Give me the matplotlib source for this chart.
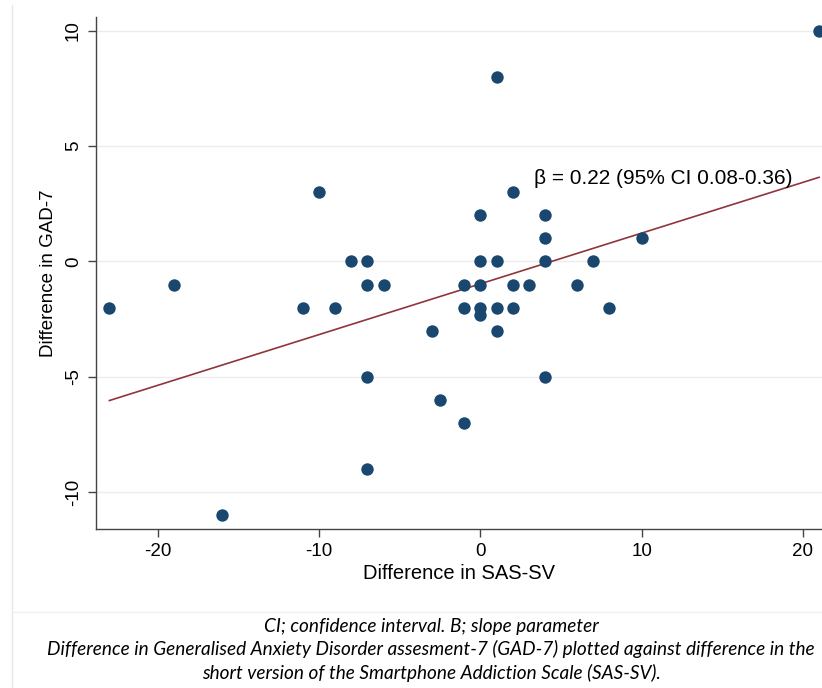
import numpy as np
import matplotlib
matplotlib.use("Agg")
import matplotlib.pyplot as plt
from matplotlib.lines import Line2D

# Datos
sas_diff = [21, 1, -10, 2, 0, 4, 4, 10,
            -8, -7, 0, 1, 4, 7,
            -19, -7, -6, -1, 0, 2, 3, 6,
            -23, -11, -9, -1, 0, 1, 2, 8,
            0, -3, 1, -7, 4, -2.5, -1, -7, -16]
gad_diff = [10, 8, 3, 3, 2, 2, 1, 1,
            0, 0, 0, 0, 0, 0,
            -1, -1, -1, -1, -1, -1, -1, -1,
            -2, -2, -2, -2, -2, -2, -2, -2,
            -2.3, -3, -3, -5, -5, -6, -7, -9, -11]
# recta ajustada del articulo
beta = 0.22
intercept = -0.97
x_ticks = [-20, -10, 0, 10, 20]
y_ticks = [-10, -5, 0, 5, 10]
annot = "\u03b2 = 0.22 (95% CI 0.08-0.36)"
caption = ("CI; confidence interval. B; slope parameter\n"
           "Difference in Generalised Anxiety Disorder assesment-7 (GAD-7) plotted against difference in the\n"
           "short version of the Smartphone Addiction Scale (SAS-SV).")

x = np.array(sas_diff)
y = np.array(gad_diff)

plt.rcParams['font.family'] = ['Liberation Sans', 'DejaVu Sans']
plt.rcParams['axes.unicode_minus'] = False

fig = plt.figure(figsize=(8.22, 6.88), dpi=100)
ax = fig.add_axes([96/822, 1 - 529/688, 1 - 96/822, (529 - 17)/688])

navy = '#1a476f'
maroon = '#90353b'

ax.scatter(x, y, s=80, color=navy, zorder=3, linewidths=0)
xs = np.array([x.min(), x.max()])
ax.plot(xs, intercept + beta*xs, color=maroon, lw=1.2, zorder=2)

ax.set_xlim(-23.83, 21.18)
ax.set_ylim(-11.6, 10.6)
ax.set_xticks(x_ticks)
ax.set_yticks(y_ticks)
ax.set_yticklabels([str(v) for v in y_ticks], rotation=90, va='center')
ax.tick_params(labelsize=13.5, length=6, width=1, color='#444444', pad=4)
ax.grid(axis='y', color='#ececec', lw=1)
ax.set_axisbelow(True)
for s in ['top', 'right']:
    ax.spines[s].set_visible(False)
for s in ['left', 'bottom']:
    ax.spines[s].set_color('#444444')
    ax.spines[s].set_linewidth(1)

ax.set_xlabel("Difference in SAS-SV", fontsize=14.5, labelpad=3)
ax.set_ylabel("Difference in GAD-7", fontsize=13.5, labelpad=6)
ax.text(3.35, 3.6, annot, fontsize=15, ha='left', va='center')

# marco del documento
fig.add_artist(Line2D([12/822, 12/822], [0, 1 - 5/688], transform=fig.transFigure,
                      color='#e6e6e6', lw=1))
fig.add_artist(Line2D([12/822, 1], [1 - 612/688, 1 - 612/688], transform=fig.transFigure,
                      color='#f0f0f0', lw=1))

fig.text(431/822, 1 - 650/688, caption, ha='center', va='center', fontsize=13.7,
         style='italic', family=['Lato', 'DejaVu Sans'], linespacing=1.38)

fig.savefig("out.png", dpi=100)
